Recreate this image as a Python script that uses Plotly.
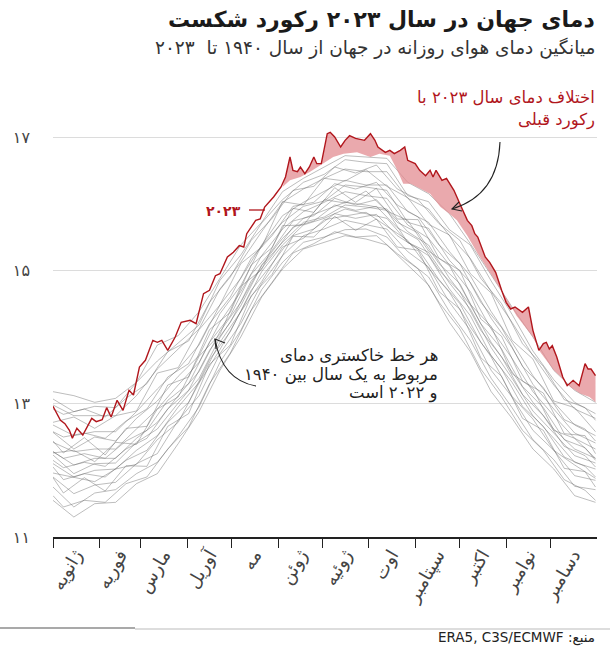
import plotly.graph_objects as go

# ---------------- data ----------------
month_starts = [0, 31, 59, 90, 120, 151, 181, 212, 243, 273, 304, 334]
month_mids = [15, 45, 74, 105, 135, 166, 196, 227, 258, 288, 319, 349]
month_names = ["ژانویه", "فوریه", "مارس", "آوریل", "مه", "ژوئن",
               "ژوئیه", "اوت", "سپتامبر", "اکتبر", "نوامبر", "دسامبر"]

y_ticks = [11, 13, 15, 17]
y_tick_text = ["۱۱", "۱۳", "۱۵", "۱۷"]

# 2023 daily global temperature (day of year, °C)
days_2023 = [0, 5, 8, 11, 13, 16, 20, 26, 29, 33, 36, 39, 43, 47, 51, 54, 58, 62, 67, 70,
             73, 77, 82, 86, 92, 96, 101, 105, 109, 112, 117, 121, 125, 128, 130, 136, 139,
             142, 148, 153, 156, 159, 161, 164, 166, 169, 172, 175, 177, 180, 184, 186, 189,
             193, 196, 199, 203, 206, 209, 213, 216, 218, 223, 226, 229, 233, 236, 238, 243,
             246, 250, 253, 255, 257, 261, 264, 269, 273, 278, 281, 283, 285, 290, 293, 297,
             301, 304, 307, 310, 315, 319, 322, 326, 329, 331, 333, 335, 338, 342, 345, 349,
             353, 357, 359, 361, 364]
temp_2023 = [12.96, 12.75, 12.70, 12.60, 12.48, 12.63, 12.53, 12.78, 12.73, 12.76, 12.94,
             12.80, 13.05, 12.90, 13.20, 13.13, 13.55, 13.65, 13.95, 13.92, 13.95, 13.80,
             14.00, 14.22, 14.25, 14.20, 14.65, 14.70, 14.92, 14.95, 15.20, 15.27, 15.37,
             15.35, 15.55, 15.75, 15.77, 15.95, 16.10, 16.25, 16.40, 16.70, 16.50, 16.48,
             16.55, 16.45, 16.55, 16.70, 16.60, 16.60, 17.05, 17.07, 17.00, 16.85, 16.95,
             17.02, 16.98, 16.97, 16.95, 17.05, 16.95, 16.85, 16.77, 16.80, 16.75, 16.80,
             16.85, 16.65, 16.60, 16.50, 16.42, 16.50, 16.40, 16.50, 16.35, 16.38, 16.20,
             16.00, 15.75, 15.67, 15.55, 15.50, 15.20, 15.12, 14.97, 14.70, 14.52, 14.42,
             14.45, 14.37, 14.45, 14.10, 13.80, 13.90, 13.92, 13.82, 13.87, 13.70, 13.40,
             13.27, 13.35, 13.27, 13.60, 13.52, 13.52, 13.42]

# previous record (highest of 1940-2022) where 2023 exceeded it
record_days = [154, 159, 166, 172, 181, 188, 195, 204, 213, 219, 226, 231, 235, 240, 244,
               253, 260, 266, 271, 278, 285, 295, 305, 311, 322, 327, 336, 340, 347, 354,
               360, 364]
record_temp = [16.25, 16.35, 16.40, 16.47, 16.60, 16.70, 16.75, 16.77, 16.70, 16.75, 16.72,
               16.50, 16.30, 16.30, 16.25, 16.15, 15.95, 15.85, 15.75, 15.52, 15.25, 14.90,
               14.55, 14.32, 14.00, 13.77, 13.50, 13.42, 13.25, 13.15, 13.10, 13.02]

# sample of the grey 1940-2022 year lines
grey_days = [0, 14, 28, 42, 56, 70, 84, 98, 112, 126, 140, 154, 168, 182, 196, 210, 224,
             238, 252, 266, 280, 294, 308, 322, 336, 350, 364]
grey_a = [11.55, 11.30, 11.50, 11.52, 11.80, 11.95, 12.40, 12.88, 13.50, 14.00, 14.60, 15.02, 15.32, 15.42, 15.52, 15.47, 15.38, 15.08, 14.78, 14.22, 13.78, 13.18, 12.78, 12.32, 12.02, 11.62, 11.52]
grey_b = [11.75, 11.45, 11.66, 11.71, 11.95, 12.12, 12.51, 12.95, 13.62, 14.10, 14.71, 15.12, 15.42, 15.50, 15.61, 15.62, 15.50, 15.15, 14.90, 14.38, 13.95, 13.38, 12.94, 12.46, 12.16, 11.76, 11.71]
grey_c = [11.90, 11.65, 11.78, 11.82, 12.10, 12.25, 12.75, 13.12, 13.75, 14.20, 14.80, 15.22, 15.52, 15.62, 15.75, 15.68, 15.62, 15.28, 15.05, 14.52, 14.10, 13.50, 13.10, 12.60, 12.30, 11.92, 11.85]
grey_d = [11.96, 11.90, 11.83, 12.02, 12.09, 12.46, 12.72, 13.31, 13.81, 14.38, 14.83, 15.35, 15.48, 15.76, 15.81, 15.87, 15.66, 15.45, 15.03, 14.67, 14.15, 13.70, 13.11, 12.77, 12.30, 12.08, 11.88]
grey_e = [12.10, 11.90, 12.00, 12.02, 12.30, 12.52, 12.95, 13.32, 13.92, 14.38, 14.98, 15.38, 15.68, 15.78, 15.92, 15.85, 15.78, 15.42, 15.22, 14.72, 14.32, 13.72, 13.32, 12.82, 12.48, 12.12, 12.02]
grey_f = [12.23, 11.95, 12.10, 12.11, 12.42, 12.62, 13.01, 13.38, 13.99, 14.47, 15.07, 15.42, 15.72, 15.80, 15.98, 15.95, 15.90, 15.42, 15.27, 14.81, 14.42, 13.84, 13.38, 12.89, 12.56, 12.22, 12.11]
grey_g = [12.28, 12.08, 12.18, 12.18, 12.48, 12.72, 13.12, 13.48, 14.08, 14.52, 15.08, 15.48, 15.78, 15.90, 16.02, 15.98, 15.92, 15.58, 15.38, 14.88, 14.48, 13.92, 13.48, 13.02, 12.62, 12.32, 12.18]
grey_h = [12.26, 12.30, 12.13, 12.42, 12.39, 12.92, 13.10, 13.71, 14.04, 14.76, 15.01, 15.67, 15.68, 16.06, 16.01, 16.19, 15.89, 15.75, 15.29, 15.07, 14.49, 14.16, 13.45, 13.23, 12.60, 12.48, 12.18]
grey_i = [12.42, 12.28, 12.32, 12.32, 12.62, 12.92, 13.28, 13.62, 14.22, 14.68, 15.22, 15.62, 15.88, 16.02, 16.18, 16.12, 16.08, 15.68, 15.48, 15.08, 14.68, 14.12, 13.68, 13.18, 12.82, 12.48, 12.32]
grey_j = [12.57, 12.32, 12.50, 12.44, 12.78, 13.04, 13.41, 13.72, 14.35, 14.77, 15.37, 15.72, 15.96, 16.04, 16.28, 16.25, 16.20, 15.72, 15.63, 15.15, 14.82, 14.28, 13.84, 13.29, 12.92, 12.56, 12.41]
grey_k = [12.68, 12.52, 12.58, 12.58, 12.88, 13.22, 13.52, 13.88, 14.48, 14.88, 15.38, 15.82, 16.02, 16.18, 16.35, 16.28, 16.28, 15.88, 15.72, 15.28, 14.92, 14.38, 13.92, 13.42, 13.02, 12.68, 12.52]
grey_l = [12.72, 12.80, 12.63, 12.82, 12.89, 13.46, 13.54, 14.11, 14.48, 15.10, 15.35, 16.03, 15.98, 16.38, 16.34, 16.51, 16.26, 16.09, 15.69, 15.53, 14.95, 14.66, 13.95, 13.67, 13.04, 12.94, 12.58]
grey_m = [12.98, 12.82, 12.82, 12.82, 13.12, 13.52, 13.82, 14.12, 14.72, 15.12, 15.58, 16.02, 16.22, 16.38, 16.52, 16.48, 16.48, 16.08, 15.92, 15.52, 15.18, 14.68, 14.22, 13.72, 13.28, 12.92, 12.78]
grey_n = [13.07, 12.88, 12.96, 12.94, 13.32, 13.64, 13.91, 14.18, 14.85, 15.23, 15.71, 16.06, 16.32, 16.44, 16.66, 16.62, 16.60, 16.12, 16.03, 15.61, 15.38, 14.84, 14.34, 13.79, 13.36, 13.02, 12.85]
grey_o = [13.18, 13.12, 13.02, 13.08, 13.32, 13.88, 14.02, 14.38, 14.88, 15.38, 15.72, 16.18, 16.38, 16.55, 16.72, 16.70, 16.68, 16.32, 16.15, 15.85, 15.40, 14.93, 14.45, 14.00, 13.50, 13.20, 13.02]

grey_days_b = [0, 7, 21, 35, 49, 63, 77, 91, 105, 119, 133, 147, 161, 175, 189, 203, 217,
               231, 245, 259, 273, 287, 301, 315, 329, 343, 357, 364]
grey_p = [11.62, 11.45, 11.55, 11.52, 11.80, 11.90, 12.32, 12.65, 13.30, 13.76, 14.40, 14.82, 15.26, 15.40, 15.58, 15.50, 15.52, 15.25, 15.02, 14.52, 14.12, 13.52, 13.10, 12.60, 12.30, 11.86, 11.70, 11.55]
grey_q = [11.89, 11.66, 11.89, 11.69, 12.07, 12.06, 12.66, 12.85, 13.59, 13.88, 14.62, 14.94, 15.51, 15.50, 15.81, 15.60, 15.77, 15.35, 15.30, 14.68, 14.42, 13.69, 13.41, 12.78, 12.60, 12.03, 11.98, 11.75]
grey_r = [12.05, 11.86, 11.95, 11.90, 12.15, 12.30, 12.72, 13.02, 13.66, 14.08, 14.70, 15.10, 15.52, 15.62, 15.85, 15.78, 15.84, 15.52, 15.32, 14.86, 14.50, 13.92, 13.52, 12.96, 12.66, 12.20, 12.06, 11.90]
grey_s = [12.15, 12.04, 12.12, 12.06, 12.32, 12.48, 12.92, 13.20, 13.80, 14.22, 14.84, 15.22, 15.65, 15.74, 15.98, 15.90, 15.96, 15.64, 15.46, 15.00, 14.68, 14.10, 13.70, 13.14, 12.82, 12.36, 12.22, 12.05]
grey_t = [12.28, 12.18, 12.25, 12.18, 12.44, 12.60, 13.05, 13.30, 13.92, 14.32, 14.94, 15.30, 15.74, 15.82, 16.08, 15.98, 16.06, 15.72, 15.56, 15.10, 14.80, 14.20, 13.82, 13.26, 12.94, 12.46, 12.34, 12.15]
grey_u = [12.44, 12.26, 12.49, 12.23, 12.63, 12.66, 13.28, 13.40, 14.11, 14.37, 15.08, 15.34, 15.93, 15.87, 16.24, 16.02, 16.23, 15.77, 15.76, 15.18, 15.00, 14.27, 14.01, 13.34, 13.16, 12.55, 12.52, 12.25]
grey_v = [12.58, 12.50, 12.56, 12.48, 12.74, 12.92, 13.40, 13.60, 14.20, 14.60, 15.18, 15.52, 15.96, 16.02, 16.30, 16.22, 16.32, 15.98, 15.80, 15.38, 15.10, 14.52, 14.14, 13.56, 13.24, 12.76, 12.62, 12.44]
grey_w = [12.92, 12.84, 12.92, 12.80, 13.08, 13.30, 13.78, 13.94, 14.52, 14.90, 15.45, 15.78, 16.20, 16.26, 16.55, 16.46, 16.58, 16.22, 16.06, 15.70, 15.45, 14.88, 14.50, 13.90, 13.56, 13.06, 12.94, 12.75]

grey_set_a = [grey_a, grey_b, grey_c, grey_d, grey_e, grey_f, grey_g, grey_h,
              grey_i, grey_j, grey_k, grey_l, grey_m, grey_n, grey_o]
grey_set_b = [grey_p, grey_q, grey_r, grey_s, grey_t, grey_u, grey_v, grey_w]

# ---------------- layout helpers (pixel -> paper) ----------------
W, H = 610, 649
L_PX, R_PX, T_PX, B_PX = 53, 597, 97, 537


def px(x):
    return (x - L_PX) / (R_PX - L_PX)


def py(y):
    return (B_PX - y) / (B_PX - T_PX)


def path(cmds):
    out = []
    for c in cmds:
        if isinstance(c, str):
            out.append(c)
        else:
            out.append(f"{px(c[0]):.5f},{py(c[1]):.5f}")
    return " ".join(out)


FONT = "DejaVu Sans"
RED = "#b1161c"
PINK = "rgba(226,136,142,0.72)"
GREY = "rgba(100,100,100,0.48)"

fig = go.Figure()

for days, group in [(grey_days, grey_set_a), (grey_days_b, grey_set_b)]:
    for g in group:
        fig.add_trace(go.Scatter(x=days, y=g, mode="lines",
                                 line=dict(color=GREY, width=0.9),
                                 hoverinfo="skip", showlegend=False))

# pink area between 2023 and previous record
seg_d = [d for d in days_2023 if d >= record_days[0]]
seg_t = [t for d, t in zip(days_2023, temp_2023) if d >= record_days[0]]
fig.add_trace(go.Scatter(x=seg_d + record_days[::-1], y=seg_t + record_temp[::-1],
                         fill="toself", fillcolor=PINK, line=dict(width=0),
                         mode="lines", hoverinfo="skip", showlegend=False))

fig.add_trace(go.Scatter(x=days_2023, y=temp_2023, mode="lines",
                         line=dict(color=RED, width=1.4), showlegend=False))

# helper trace for the month label axis
fig.add_trace(go.Scatter(x=[month_mids[0]], y=[y_ticks[0]], xaxis="x2", mode="markers",
                         marker=dict(opacity=0), hoverinfo="skip", showlegend=False))

fig.update_layout(
    width=W, height=H, autosize=False,
    margin=dict(l=L_PX, r=W - R_PX, t=T_PX, b=H - B_PX, pad=0),
    paper_bgcolor="white", plot_bgcolor="white",
    font=dict(family=FONT, color="#333"),
    xaxis=dict(range=[0, 365], tickvals=month_starts, showticklabels=False,
               ticks="outside", ticklen=9, tickwidth=1.3, tickcolor="#222",
               showline=True, linecolor="#222", linewidth=1.5,
               showgrid=False, zeroline=False, fixedrange=True),
    xaxis2=dict(range=[0, 365], overlaying="x", side="bottom", anchor="y",
                tickvals=month_mids, ticktext=month_names, tickangle=-60,
                ticks="", showgrid=False, showline=False, zeroline=False,
                ticklabelstandoff=3,
                tickfont=dict(family=FONT, size=18, color="#444")),
    yaxis=dict(range=[11, 17.6], tickvals=y_ticks, ticktext=y_tick_text,
               showgrid=True, gridcolor="#dcdcdc", gridwidth=1, zeroline=False,
               ticks="", ticklabelstandoff=22,
               tickfont=dict(family=FONT, size=16, color="#444")),
)

ann = [
    dict(text="<b>دمای جهان در سال ۲۰۲۳ رکورد شکست</b>", x=px(597), y=py(20),
         xanchor="right", yanchor="middle", font=dict(size=22, color="#1a1a1a")),
    dict(text="میانگین دمای هوای روزانه در جهان از سال ۱۹۴۰ تا  ۲۰۲۳", x=px(597), y=py(48),
         xanchor="right", yanchor="middle", font=dict(size=18.5, color="#333")),
    dict(text="اختلاف دمای سال ۲۰۲۳ با", x=px(597), y=py(97),
         xanchor="right", yanchor="middle", font=dict(size=16.5, color=RED)),
    dict(text="رکورد قبلی", x=px(597), y=py(120),
         xanchor="right", yanchor="middle", font=dict(size=16.5, color=RED)),
    dict(text="<b>۲۰۲۳</b>", x=px(223), y=py(211), xanchor="center", yanchor="middle",
         font=dict(size=14, color=RED)),
    dict(text="هر خط خاکستری دمای", x=px(440), y=py(356), xanchor="right",
         yanchor="middle", font=dict(size=16.5, color="#222")),
    dict(text="مربوط به یک سال بین ۱۹۴۰", x=px(440), y=py(375), xanchor="right",
         yanchor="middle", font=dict(size=16.5, color="#222")),
    dict(text="و ۲۰۲۲ است", x=px(440), y=py(393), xanchor="right",
         yanchor="middle", font=dict(size=16.5, color="#222")),
    dict(text="ERA5, C3S/ECMWF :منبع", x=px(597), y=py(637), xanchor="right",
         yanchor="middle", font=dict(size=13.5, color="#222")),
]
for a in ann:
    a.update(xref="paper", yref="paper", showarrow=False)
fig.update_layout(annotations=ann)

shapes = [
    # label connector for 2023
    dict(type="line", x0=px(249), y0=py(210), x1=px(265), y1=py(210),
         line=dict(color=RED, width=1.3)),
    # arrow: note -> pink area
    dict(type="path", path=path(["M", (500, 142), "Q", (498, 195), (452, 209)]),
         line=dict(color="#222", width=1.1)),
    dict(type="path", path=path(["M", (459, 202), "L", (452, 209), "L", (462, 211)]),
         line=dict(color="#222", width=1.1)),
    # arrow: grey note -> grey lines
    dict(type="path", path=path(["M", (256, 386), "Q", (222, 380), (215, 339)]),
         line=dict(color="#222", width=1.1)),
    dict(type="path", path=path(["M", (216, 349), "L", (215, 339), "L", (225, 343)]),
         line=dict(color="#222", width=1.1)),
    # footer rules
    dict(type="line", x0=px(0), y0=py(628), x1=px(135), y1=py(628),
         line=dict(color="#555", width=1.2)),
    dict(type="line", x0=px(135), y0=py(629), x1=px(610), y1=py(629),
         line=dict(color="#bbb", width=1)),
]
for s in shapes:
    s.update(xref="paper", yref="paper")
fig.update_layout(shapes=shapes)

fig.write_html("out.html", config={"displayModeBar": False},
               post_script="document.body.style.margin='0';")
